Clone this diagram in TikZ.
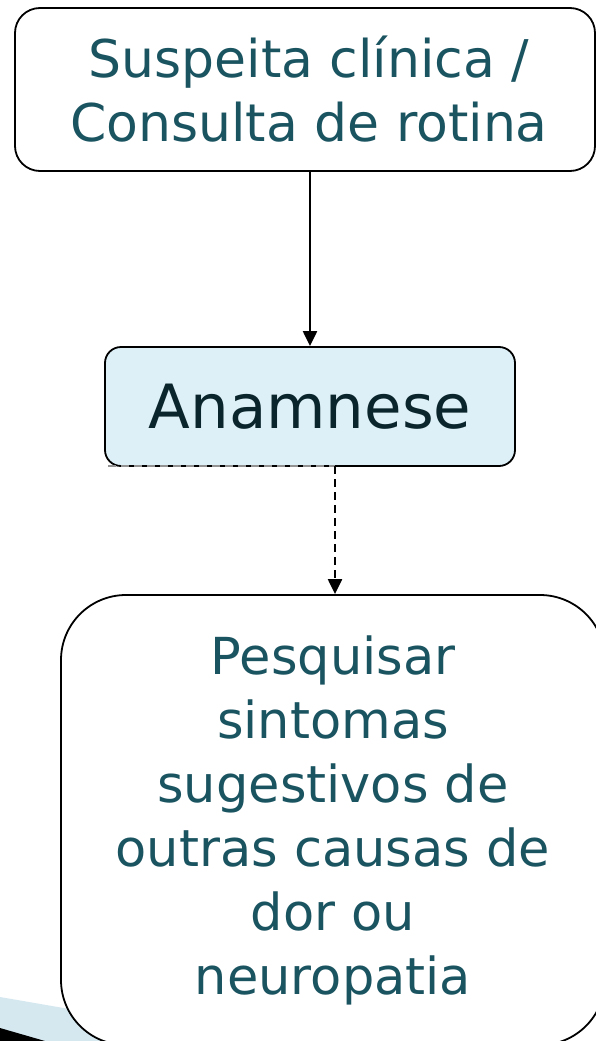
\documentclass[tikz,border=0pt]{standalone}
\usepackage{fontspec}
\setmainfont{DejaVu Sans}
\usetikzlibrary{arrows.meta}
\definecolor{tealtxt}{HTML}{1B5461}
\definecolor{darktxt}{HTML}{0B252C}
\definecolor{anamfill}{HTML}{DDF0F7}
\definecolor{decoblue}{HTML}{D5E8F0}
\tikzset{
  flowbox/.style={draw=black, line width=1.8pt, fill=white, inner sep=0pt, align=center},
  conn/.style={line width=2.2pt, -{Triangle[length=15pt,width=14pt]}},
  dconn/.style={line width=2.2pt, dash pattern=on 8pt off 5pt},
}
\begin{document}
\begin{tikzpicture}[x=1pt,y=-1pt]
\useasboundingbox (0,0) rectangle (596,1041);
\fill[white] (0,0) rectangle (596,1041);
% decoration bottom left
\fill[decoblue] (0,997) -- (220,1035) -- (220,1041) -- (0,1041) -- cycle;
\fill[black] (0,1028) -- (45,1041) -- (0,1041) -- cycle;
% boxes
\node[flowbox, rounded corners=25pt, minimum width=580pt, minimum height=163pt,
      font=\fontsize{52}{64}\selectfont, text=tealtxt]
  (top) at (305,89.5) {\hspace*{8pt}Suspeita clínica /\\\hspace*{8pt}Consulta de rotina};
\node[flowbox, fill=anamfill, rounded corners=16pt, minimum width=410pt, minimum height=119pt,
      font=\fontsize{61}{70}\selectfont, text=darktxt]
  (anam) at (310,406.5) {Anamnese};
\node[flowbox, rounded corners=65pt, minimum width=544pt, minimum height=450pt,
      font=\fontsize{51}{64}\selectfont, text=tealtxt]
  (low) at (333,820) {Pesquisar\\sintomas\\sugestivos de\\outras causas de\\dor ou\\neuropatia};
% connectors
\draw[conn] (top.south -| 310,0) -- (anam.north -| 310,0);
\coordinate (dstart) at (108,466);
\coordinate (dbend) at (335,466);
\draw[dconn, draw=gray!85] (dstart) -- (dbend);
\draw[dconn, -{Triangle[length=15pt,width=14pt]}] (dbend) -- (dbend |- low.north);
\end{tikzpicture}
\end{document}
